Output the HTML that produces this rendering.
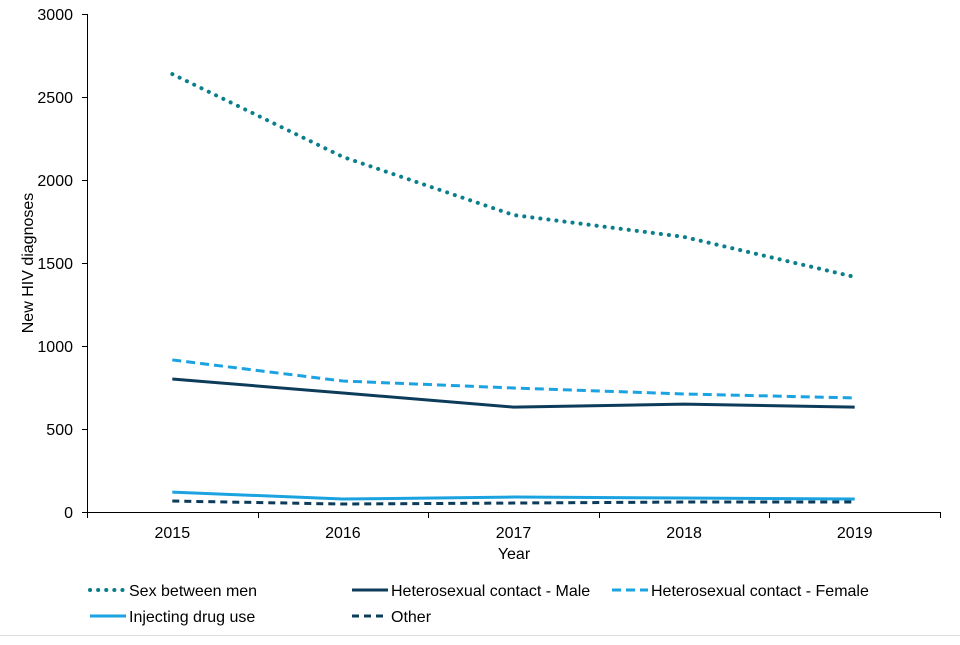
<!DOCTYPE html>
<html><head><meta charset="utf-8"><style>
body{margin:0;background:#fff;font-family:"Liberation Sans",Arial,sans-serif;}
svg text{font-family:"Liberation Sans",Arial,sans-serif;font-size:16px;fill:#000;}
</style></head><body>
<svg id="chart" width="960" height="640" xmlns="http://www.w3.org/2000/svg">
<line x1="0" y1="635.5" x2="960" y2="635.5" stroke="#ddd"/>
<g id="axes"></g><g id="series"></g><g id="legend"></g>
</svg>
<script>
const categories=["2015","2016","2017","2018","2019"];
const yTicks=[0,500,1000,1500,2000,2500,3000];
const sexBetweenMen=[2638,2139,1789,1657,1416];
const heteroMale=[801,717,632,650,632];
const heteroFemale=[916,789,747,711,687];
const injectingDrugUse=[120,78,90,84,78];
const other=[66,48,54,60,60];
const seriesNames=["Sex between men","Heterosexual contact - Male","Heterosexual contact - Female","Injecting drug use","Other"];

const NS="http://www.w3.org/2000/svg";
const x0=87,x1=940,yTop=14,yBot=512,yMax=3000;
const band=(x1-x0)/categories.length;
const xScale=i=>x0+band*(i+0.5);
const yScale=v=>yBot-(v/yMax)*(yBot-yTop);
function mk(tag,attrs,parent){const e=document.createElementNS(NS,tag);for(const k in attrs)e.setAttribute(k,attrs[k]);parent.appendChild(e);return e;}
const axes=document.getElementById('axes');
let yl=mk('line',{x1:x0+.5,y1:yTop,x2:x0+.5,y2:yBot,stroke:'#000'},axes);


let xl=mk('line',{x1:x0,y1:yBot+.5,x2:x1,y2:yBot+.5,stroke:'#000'},axes);


yTicks.forEach(v=>{const y=yScale(v);
 let tk=mk('line',{x1:x0-5,y1:y+.5,x2:x0,y2:y+.5,stroke:'#000'},axes);
 
 
 let t=mk('text',{x:x0-14,y:y+6,'text-anchor':'end'},axes);t.textContent=v;
 
 });
for(let i=0;i<=categories.length;i++){const x=Math.round(x0+band*i)+.5;
 let tk=mk('line',{x1:x,y1:yBot,x2:x,y2:yBot+6,stroke:'#000'},axes);
 
 }
categories.forEach((c,i)=>{let t=mk('text',{x:xScale(i),y:538,'text-anchor':'middle'},axes);t.textContent=c;
 
 });
let xt=mk('text',{x:514,y:559,'text-anchor':'middle'},axes);xt.textContent="Year";


let yt=mk('text',{x:33,y:263,'text-anchor':'middle',transform:'rotate(-90 33 263)'},axes);yt.textContent="New HIV  diagnoses";



const styles=[
 {d:sexBetweenMen,c:'#0a7f8c',w:4,dash:'0.1 8',cap:'round',n:'sex-between-men-line'},
 {d:heteroMale,c:'#0d3c5a',w:3,dash:'',cap:'butt',n:'hetero-male-line'},
 {d:heteroFemale,c:'#1aa3e0',w:3,dash:'9 5',cap:'butt',n:'hetero-female-line'},
 {d:injectingDrugUse,c:'#1aa3e0',w:3,dash:'',cap:'butt',n:'injecting-drug-use-line'},
 {d:other,c:'#0d3c5a',w:3,dash:'7 5',cap:'butt',n:'other-line'}];
const sg=document.getElementById('series');
styles.forEach(s=>{const pts=s.d.map((v,i)=>xScale(i)+','+yScale(v)).join(' ');
 let p=mk('polyline',{points:pts,fill:'none',stroke:s.c,'stroke-width':s.w,'stroke-dasharray':s.dash,'stroke-linecap':s.cap},sg);
 
 });
const lg=document.getElementById('legend');
const lpos=[[88,590],[350,590],[610,590],[88,616],[350,616]];
styles.forEach((s,i)=>{const [x,y]=lpos[i];
 let g=mk('g',{},lg);
 
 
 mk('line',{x1:x+2,y1:y,x2:x+38,y2:y,stroke:s.c,'stroke-width':s.w,'stroke-dasharray':s.dash,'stroke-linecap':s.cap},g);
 let t=mk('text',{x:x+41,y:y+6},g);t.textContent=seriesNames[i];});
</script>
</body></html>
